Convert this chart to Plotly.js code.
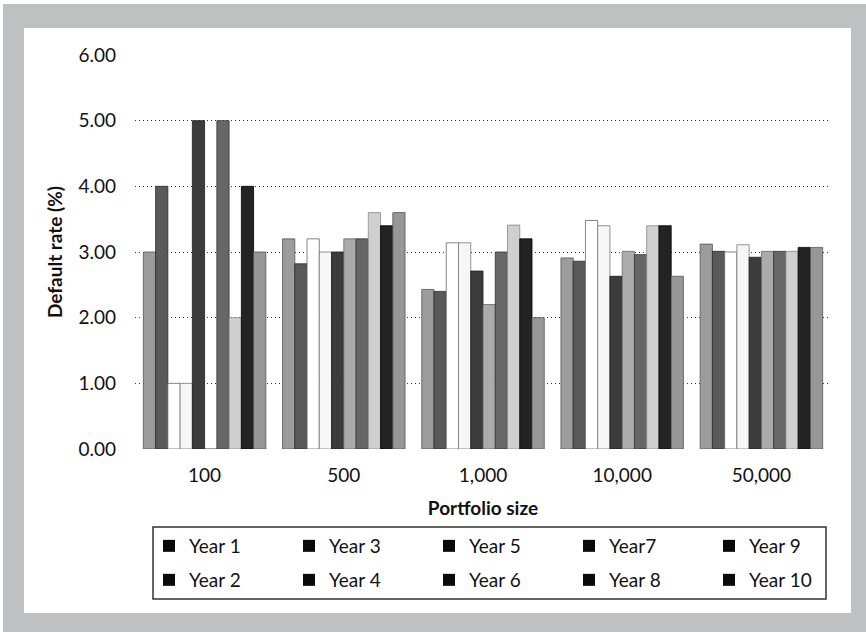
<!DOCTYPE html>
<html>
<head>
<meta charset="utf-8">
<script src="https://cdn.plot.ly/plotly-3.0.1.min.js"></script>
<style>
  html, body { margin: 0; padding: 0; background: #ffffff; }
  #frame { position: absolute; left: 3px; top: 4px; width: 863px; height: 628px; background: #bfc0c2; }
  #inner { position: absolute; left: 24px; top: 28px; width: 827px; height: 585px; background: #ffffff; }
  #chart { position: absolute; left: 0; top: 0; width: 866px; height: 632px; }
</style>
</head>
<body>
<div id="frame"></div>
<div id="inner"></div>
<div id="chart"></div>
<script>
// ---- data ----
const categories = ['100', '500', '1,000', '10,000', '50,000'];
const seriesNames = ['Year 1', 'Year 2', 'Year 3', 'Year 4', 'Year 5', 'Year 6', 'Year7', 'Year 8', 'Year 9', 'Year 10'];
const year1  = [3.00, 3.20, 2.43, 2.91, 3.12];
const year2  = [4.00, 2.82, 2.40, 2.86, 3.01];
const year3  = [1.00, 3.20, 3.14, 3.48, 3.00];
const year4  = [1.00, 3.00, 3.14, 3.40, 3.11];
const year5  = [5.00, 3.00, 2.71, 2.63, 2.92];
const year6  = [0.00, 3.20, 2.20, 3.01, 3.01];
const year7  = [5.00, 3.20, 3.00, 2.96, 3.01];
const year8  = [2.00, 3.60, 3.41, 3.40, 3.01];
const year9  = [4.00, 3.40, 3.20, 3.40, 3.07];
const year10 = [3.00, 3.60, 2.00, 2.63, 3.07];
const yTickVals = [0, 1, 2, 3, 4, 5, 6];
const yTickText = ['0.00', '1.00', '2.00', '3.00', '4.00', '5.00', '6.00'];
const legendRow1 = ['Year 1', 'Year 3', 'Year 5', 'Year7', 'Year 9'];
const legendRow2 = ['Year 2', 'Year 4', 'Year 6', 'Year 8', 'Year 10'];

// ---- styles ----
const seriesValues = [year1, year2, year3, year4, year5, year6, year7, year8, year9, year10];
const fillColors = ['#9c9c9c', '#5a5a5a', '#ffffff', '#f6f6f6', '#3c3c3c', '#ababab', '#676767', '#cfcfcf', '#232323', '#979797'];
const lineColors = ['#555555', '#2a2a2a', '#666666', '#777777', '#1a1a1a', '#666666', '#333333', '#888888', '#000000', '#555555'];

const FONT = 'Lato, "Open Sans", sans-serif';
const W = 866, H = 632;
const M = { l: 135, r: 35, t: 55, b: 183 };
const PW = W - M.l - M.r, PH = H - M.t - M.b;
const px2x = p => (p - M.l) / PW;
const py2y = p => (H - M.b - p) / PH;

const traces = seriesNames.map((name, i) => ({
  type: 'bar',
  name: name,
  x: categories,
  y: seriesValues[i],
  showlegend: false,
  marker: { color: fillColors[i], line: { color: lineColors[i], width: 0.8 } },
  hoverinfo: 'skip'
}));

// legend-only entries (black squares as in the reference)
[legendRow1, legendRow2].forEach((row, r) => {
  row.forEach(name => {
    traces.push({
      type: 'scatter', mode: 'markers', name: name,
      x: [null], y: [null],
      marker: { symbol: 'square', size: 12, color: '#0a0a0a' },
      legend: r === 0 ? 'legend' : 'legend2',
      showlegend: true, hoverinfo: 'skip'
    });
  });
});

const legendCommon = {
  orientation: 'h',
  xanchor: 'left', yanchor: 'middle',
  x: px2x(149),
  bgcolor: 'rgba(0,0,0,0)', borderwidth: 0,
  font: { family: FONT, size: 19, color: '#111' },
  entrywidth: 95, entrywidthmode: 'pixels',
  itemclick: false, itemdoubleclick: false
};

const layout = {
  width: W, height: H,
  margin: M,
  paper_bgcolor: 'rgba(0,0,0,0)',
  plot_bgcolor: 'rgba(0,0,0,0)',
  barmode: 'group',
  bargap: 0.12,
  bargroupgap: 0,
  font: { family: FONT, size: 19, color: '#111' },
  xaxis: {
    type: 'category',
    showgrid: false, zeroline: false, showline: false, ticks: '',
    tickfont: { family: FONT, size: 19, color: '#111' },
    ticklabelstandoff: 13,
    title: { text: 'Portfolio size', font: { family: FONT, size: 19, color: '#111', weight: 'bold' }, standoff: 16 }
  },
  yaxis: {
    range: [0, 6],
    tickvals: yTickVals, ticktext: yTickText,
    showgrid: false, zeroline: false, showline: false, ticks: '',
    tickfont: { family: FONT, size: 19, color: '#111' },
    ticklabelstandoff: 18,
    minor: { tickvals: [1, 2, 3, 4, 5], showgrid: true, gridcolor: '#333333', gridwidth: 1, griddash: '1px,3px', ticks: '' },
    title: { text: 'Default rate (%)', font: { family: FONT, size: 19, color: '#111', weight: 'bold' }, standoff: 10 }
  },
  legend: Object.assign({}, legendCommon, { y: py2y(546) }),
  legend2: Object.assign({}, legendCommon, { y: py2y(580) }),
  shapes: [{
    type: 'rect', xref: 'paper', yref: 'paper',
    x0: px2x(153), x1: px2x(826), y0: py2y(599), y1: py2y(527),
    line: { color: '#333333', width: 1.5 }, fillcolor: 'rgba(0,0,0,0)', layer: 'above'
  }],
  showlegend: true
};

Plotly.newPlot('chart', traces, layout, { displayModeBar: false, staticPlot: true });
</script>
</body>
</html>
